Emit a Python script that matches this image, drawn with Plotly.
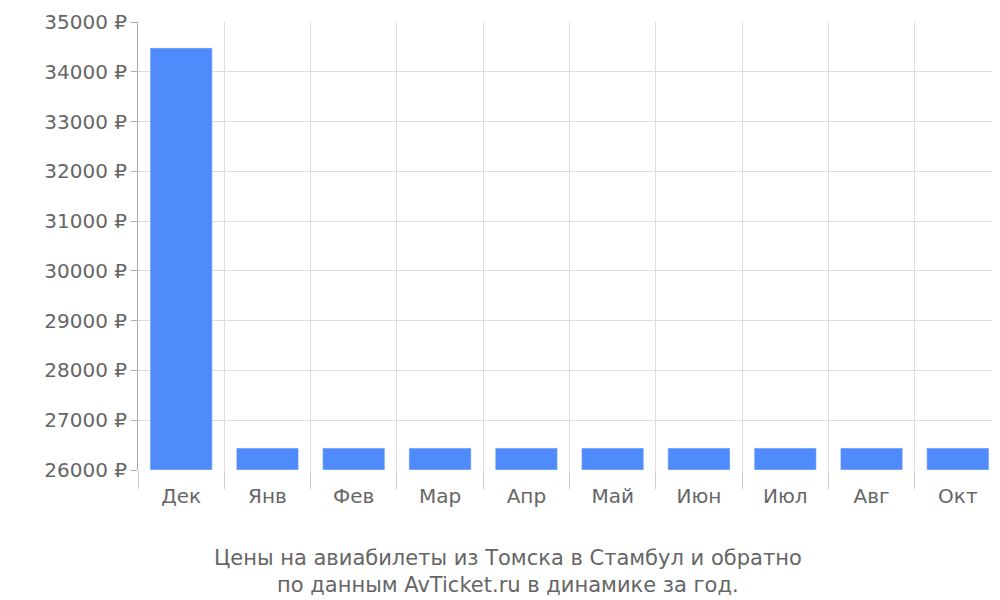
import plotly.graph_objects as go

months = ["Дек", "Янв", "Фев", "Мар", "Апр", "Май", "Июн", "Июл", "Авг", "Окт"]
prices = [34480, 26440, 26440, 26440, 26440, 26440, 26440, 26440, 26440, 26440]
base_value = 26000
tick_vals = list(range(26000, 35001, 1000))
tick_text = [f"{v} ₽" for v in tick_vals]

fig = go.Figure(go.Bar(
    x=months, y=[p - base_value for p in prices], base=base_value,
    marker_color="#4f8bfb", width=0.72, hoverinfo="skip"))

fig.update_layout(
    width=1000, height=600, plot_bgcolor="white", paper_bgcolor="white",
    margin=dict(l=130, r=7, t=14, b=138, autoexpand=False), showlegend=False,
    font=dict(family="DejaVu Sans", size=20, color="#666"),
    xaxis=dict(tickson="boundaries", showgrid=True, gridcolor="#ddd", automargin=False,
               ticks="outside", ticklen=18, tickcolor="#ccc", showline=False,
               ticklabelstandoff=12),
    yaxis=dict(range=[26000, 35000], tickvals=tick_vals, ticktext=tick_text, automargin=False,
               showgrid=True, gridcolor="#ddd", showline=True, linecolor="#aaa",
               ticks="outside", ticklen=6, tickcolor="#aaa", zeroline=False),
    annotations=[dict(text="Цены на авиабилеты из Томска в Стамбул и обратно<br>по данным AvTicket.ru в динамике за год.",
                      x=(500 - 130) / 863, xref="paper", y=-0.165, yref="paper", yanchor="top",
                      showarrow=False, font=dict(size=21, color="#666"))],
)
fig.write_html("out.html")
